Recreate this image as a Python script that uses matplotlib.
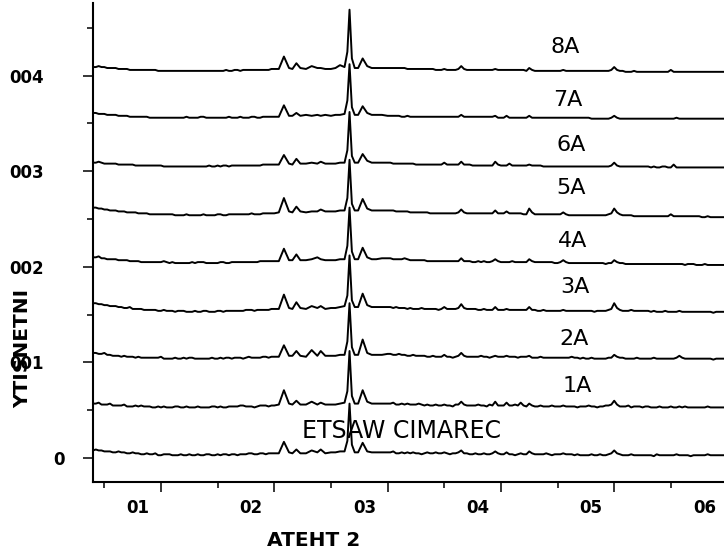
import numpy as np
import matplotlib
matplotlib.use('Agg')
import matplotlib.pyplot as plt
from matplotlib.transforms import ScaledTranslation

# 2 theta sampling: 0.25 deg on the flat parts, hand-picked round the 20-30 deg peaks
two_theta = np.concatenate([
    np.arange(4.0, 20.01, 0.25),
    [20.4, 20.85, 21.3, 21.6, 21.95, 22.3, 22.8, 23.3, 23.8, 24.1, 24.5, 25.0, 25.4,
     25.8, 26.2, 26.45, 26.64, 26.85, 27.1, 27.4, 27.8, 28.2, 28.6, 29.0, 29.5],
    np.arange(30.0, 60.01, 0.25)])

# intensities (each pattern before stacking)
cw = ([8,9,8,8,7,7,7,6,6,7, 6,6,5,5,6,5,5,4,4,5, 4,4,5,3,3,4,4,4,3,3,
       3,4,3,3,4,3,3,4,3,3, 4,4,3,3,4,3,4,4,3,4, 4,3,4,4,4,5,5,4,4,5, 5,4,5,5,5]
      + [5,17,6,5,9,5,5,8,6,9,5,6,6,7,7,18,57,14,6,6,16,7,6,6,6]
      + [6,6,7,5,5,6,5,6,5,6, 5,5,4,5,6,5,5,6,5,5, 6,5,4,5,5,6,8,5,5,4,
         4,5,4,4,5,4,4,5,7,5, 4,4,6,4,4,3,4,5,4,4, 7,5,4,4,4,4,5,4,3,4,
         4,4,5,4,4,4,3,4,3,3, 3,3,4,3,3,4,3,3,4,5, 8,5,4,3,3,3,4,3,3,3,
         3,3,3,3,2,4,3,3,3,3, 3,3,4,3,3,3,3,2,3,3, 3,3,3,4,3,3,3,3,3,3, 3])
a1 = ([7,7,8,6,6,6,7,5,5,5, 5,6,4,4,4,5,4,5,4,4, 4,3,3,4,3,4,3,3,3,4, 4,3,3,4,3,3,3,4,3,3,
       3,3,4,4,3,4,3,3,4,4, 4,4,5,5,4,4,4,3,4,5, 5,5,4,5,5]
      + [6,21,7,6,10,6,6,9,6,8,6,6,6,7,8,20,62,15,7,7,21,9,7,7,7]
      + [7,7,8,6,6,7,6,7,6,6, 6,7,6,5,6,5,5,6,5,5, 6,5,5,4,6,6,9,6,5,5,
         5,5,6,5,5,4,6,5,9,5, 5,5,8,5,5,6,5,8,5,4, 7,5,4,4,5,4,4,4,5,4,
         4,4,5,4,4,4,4,3,4,4, 4,5,4,4,3,4,4,5,5,6, 10,6,4,4,4,5,3,4,4,4,
         3,4,4,3,3,3,4,3,3,3, 4,3,3,4,3,4,3,3,3,3, 3,3,3,4,3,3,3,3,3,3, 3])
a2 = ([10,10,9,9,10,8,8,7,7,7, 6,7,6,6,6,5,6,5,5,5, 5,5,5,5,6,4,4,4,4,5, 4,4,5,4,5,5,4,4,4,4,
       4,4,5,4,4,5,4,5,5,4, 5,5,5,4,5,6,5,5,5,5, 6,6,5,6,6]
      + [6,18,7,7,12,7,6,13,7,12,7,7,7,8,8,22,62,16,8,8,24,10,8,8,8]
      + [9,9,8,8,9,8,8,7,7,8, 7,7,7,7,6,6,7,6,6,6, 8,6,6,5,6,7,10,7,6,6,
         6,6,6,7,6,6,5,6,7,6, 6,6,7,6,6,6,5,6,6,6, 7,5,5,5,6,5,5,5,5,5,
         5,5,5,5,5,6,5,5,4,5, 4,4,5,4,4,4,4,4,5,5, 8,6,5,5,4,4,4,4,5,4,
         4,4,4,4,5,4,4,4,4,4, 4,4,5,7,5,4,4,4,4,4, 4,4,4,4,4,3,4,4,4,4, 4])
a3 = ([12,12,11,11,10,10,9,9,9,8, 8,7,7,8,6,6,6,6,5,5, 5,5,5,4,4,5,4,4,4,3, 4,4,4,3,3,3,4,3,3,4,
       4,3,3,3,4,4,3,4,4,4, 4,4,4,4,5,5,5,4,5,5, 5,5,5,6,6]
      + [6,21,7,6,13,7,6,9,7,9,6,7,7,8,9,20,62,15,8,8,22,10,8,8,8]
      + [8,8,7,8,7,7,7,6,7,6, 6,6,7,6,6,6,6,6,5,6, 8,6,6,6,6,7,11,7,6,6,
         6,6,5,5,6,5,5,5,8,5, 5,5,6,5,5,5,5,5,5,5, 8,5,5,4,4,5,4,4,4,4,
         4,4,5,4,4,4,4,4,4,4, 4,4,4,3,4,4,4,4,5,6, 12,7,5,4,4,4,5,4,4,4,
         4,4,4,3,4,3,3,3,4,3, 3,3,3,4,3,3,3,3,3,3, 3,3,3,3,3,2,3,3,3,3, 3])
a4 = ([10,10,11,9,9,8,8,8,8,7, 7,7,7,6,6,6,6,5,5,5, 5,5,5,5,5,6,5,4,5,4, 4,4,4,4,4,5,4,5,5,5,
       4,4,4,4,4,5,5,4,4,5, 5,5,5,5,5,5,5,5,5,6, 6,6,6,6,6]
      + [6,19,7,7,13,7,7,8,10,8,7,7,7,8,8,22,62,16,8,8,20,10,8,8,9]
      + [9,9,8,8,8,8,9,8,7,7, 7,7,7,7,6,6,6,6,6,6, 6,6,6,6,6,6,9,6,6,6,
         5,5,6,5,6,5,5,6,8,6, 5,5,5,5,6,5,5,5,5,5, 8,6,5,5,5,5,5,5,5,4,
         4,5,7,5,4,4,4,4,4,4, 4,4,4,4,4,4,4,3,4,4, 7,5,4,4,3,3,3,3,3,3,
         3,3,3,3,3,3,3,3,3,3, 3,3,3,3,3,2,3,3,3,2, 2,2,3,2,2,2,2,2,2,2, 2])
a5 = ([12,12,11,11,10,10,9,9,9,8, 8,8,7,7,7,7,6,6,6,6, 5,5,5,5,5,5,5,5,5,4, 4,4,4,5,4,4,4,4,4,5,
       4,4,4,4,5,5,4,4,5,5, 5,5,5,5,5,5,6,5,5,5, 6,6,6,6,6]
      + [7,22,8,7,13,8,7,8,8,10,8,8,8,9,9,22,62,16,9,9,21,11,9,9,9]
      + [9,9,9,8,8,8,8,8,7,7, 7,7,7,7,7,6,6,6,6,6, 6,6,6,6,6,7,10,7,6,6,
         6,6,6,6,6,6,6,6,9,6, 6,6,8,6,6,6,6,6,5,5, 11,7,5,5,5,5,5,5,5,5,
         5,5,7,5,4,4,4,4,4,4, 4,4,4,4,4,4,4,4,5,6, 11,7,5,4,4,4,4,3,3,3,
         3,3,3,3,3,3,3,3,3,3, 5,3,3,3,3,3,3,3,3,3, 3,2,2,3,2,2,2,2,2,2, 2])
a6 = ([9,9,10,9,8,8,8,8,8,7, 7,7,7,7,7,6,6,6,6,6, 6,6,6,6,6,5,5,5,5,5, 5,5,5,5,5,5,5,5,5,5,
       5,6,5,5,6,5,6,6,5,6, 6,6,6,6,6,6,6,6,6,6, 7,7,7,7,7]
      + [7,17,8,7,13,8,8,9,8,10,8,8,8,9,9,22,62,16,9,9,18,11,9,9,9]
      + [9,9,8,8,8,8,8,8,8,8, 7,7,7,7,7,7,7,7,7,7, 9,7,7,7,7,7,10,7,7,7,
         6,6,6,6,6,6,6,6,10,7, 6,6,6,8,6,6,6,6,6,6, 7,6,6,6,6,5,5,5,5,5,
         5,5,5,5,5,5,5,5,5,5, 5,5,5,5,5,5,5,5,5,6, 9,6,5,5,5,5,5,5,5,5,
         5,5,5,4,5,4,4,5,5,4, 4,7,4,4,4,4,4,4,4,4, 4,4,4,4,4,4,4,4,4,4, 4])
a7 = ([11,11,10,10,10,9,9,9,9,8, 8,8,8,7,7,7,7,7,7,7, 6,6,6,6,6,6,6,6,6,6, 6,6,6,7,6,6,6,6,7,7,
       6,6,6,6,6,6,6,6,7,6, 6,6,7,6,6,6,7,7,6,6, 7,7,7,7,7]
      + [7,19,8,8,11,8,9,8,9,8,9,8,9,9,10,24,62,17,9,9,18,11,9,9,9]
      + [8,8,8,8,8,7,7,8,7,7, 7,7,7,7,7,7,7,7,7,7, 7,7,7,7,7,7,9,7,7,7,
         7,7,7,7,7,7,7,7,8,6, 6,6,8,6,6,6,6,6,6,6, 8,6,6,6,6,6,6,6,6,6,
         6,6,6,6,6,6,6,6,6,6, 6,6,5,5,5,5,5,5,5,6, 8,6,5,5,5,5,5,5,5,5,
         5,5,5,5,5,5,5,5,5,5, 5,5,6,5,5,5,5,5,5,5, 5,5,5,5,5,5,5,5,5,5, 5])
a8 = ([9,9,10,9,9,8,8,8,8,7, 7,7,7,6,6,6,6,6,6,6, 6,6,6,5,5,5,5,5,5,5, 5,5,5,5,5,5,5,5,5,5,
       5,5,5,5,5,5,5,6,5,5, 6,6,5,6,6,6,6,6,6,6, 6,6,6,7,7]
      + [7,20,8,7,13,8,7,10,8,8,7,7,8,11,9,25,69,18,8,8,18,10,8,8,8]
      + [8,8,8,8,8,8,8,7,7,7, 7,7,7,7,7,7,7,6,6,6, 7,6,6,6,6,7,10,7,6,6,
         6,6,6,6,6,6,6,6,7,6, 6,6,6,6,6,6,6,6,6,5, 8,6,5,5,5,5,5,5,5,5,
         5,5,6,5,5,5,5,5,5,5, 5,5,5,5,5,5,5,5,5,6, 9,6,5,5,4,4,4,5,4,4,
         4,4,4,4,4,4,4,4,4,4, 6,4,4,4,4,4,4,4,4,4, 4,4,4,4,4,4,4,4,4,4, 4])

patterns = [cw, a1, a2, a3, a4, a5, a6, a7, a8]
names = ['ETSAW CIMAREC', '1A', '2A', '3A', '4A', '5A', '6A', '7A', '8A']
offsets = [0, 50, 100, 150, 200, 250, 300, 350, 400]

x_ticks = [10, 20, 30, 40, 50, 60]
x_labels = ['01', '02', '03', '04', '05', '06']
y_ticks = [0, 100, 200, 300, 400]
y_labels = ['0', '001', '002', '003', '004']

# where the sample names sit (data coords)
name_x = [31.2, 46.7, 46.5, 46.5, 46.3, 46.2, 46.2, 45.9, 45.7]
name_y = [28, 75, 125, 179, 227, 283, 327, 375, 430]

fig = plt.figure(figsize=(7.24, 5.55), dpi=100)
ax = fig.add_axes([93/724, 73/555, 634.5/724, 479/555])

for vals, off in zip(patterns, offsets):
    ax.plot(two_theta, np.array(vals) + off, color='black', lw=1.4)

for nm, tx, ty in zip(names, name_x, name_y):
    ax.text(tx, ty, nm, fontsize=17 if len(nm) > 2 else 16, ha='center', va='center')

ax.set_xlim(4, 60)
ax.set_ylim(-25, 476)
ax.spines['top'].set_visible(False)
ax.spines['right'].set_visible(False)
ax.spines['left'].set_linewidth(1.5)
ax.spines['bottom'].set_linewidth(1.5)

ax.set_xticks(x_ticks)
ax.set_xticklabels(x_labels, fontsize=12, fontweight='bold')
ax.set_xticks([5, 15, 25, 35, 45, 55], minor=True)
ax.set_yticks(y_ticks)
ax.set_yticklabels(y_labels, fontsize=12, fontweight='bold')
ax.set_yticks([50, 150, 250, 350, 450], minor=True)
ax.tick_params(axis='x', which='major', length=7.5, width=1.1, pad=5)
ax.tick_params(axis='y', which='major', length=7.5, width=1.1, pad=13)
ax.tick_params(which='minor', length=4, width=1.1)

# labels sit left of their ticks in the original
for lbl in ax.get_xticklabels():
    lbl.set_transform(lbl.get_transform() + ScaledTranslation(-23/100, 0, fig.dpi_scale_trans))
for lbl in ax.get_yticklabels():
    if len(lbl.get_text()) > 1:
        lbl.set_transform(lbl.get_transform() + ScaledTranslation(-21/100, 0, fig.dpi_scale_trans))

ax.set_xlabel('ATEHT 2', fontsize=14.5, fontweight='bold', va='center')
ax.xaxis.set_label_coords(0.347, -0.123)
ax.set_ylabel('YTISNETNI', fontsize=14.5, fontweight='bold', va='center')
ax.yaxis.set_label_coords(-0.110, 0.278)

fig.savefig('out.png', dpi=100)
